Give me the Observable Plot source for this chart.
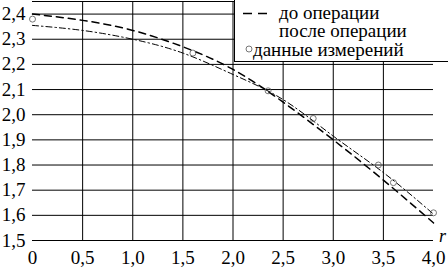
<!DOCTYPE html>
<html>
<head>
<meta charset="utf-8">
<script src="https://cdn.jsdelivr.net/npm/d3@7"></script>
<script src="https://cdn.jsdelivr.net/npm/@observablehq/plot@0.6"></script>
<style>
  html, body { margin: 0; padding: 0; background: #fff; font-family: 'Liberation Serif', serif; }
  #wrap { position: relative; width: 448px; height: 269px; overflow: hidden; font-family: 'Liberation Serif', serif; }
  #legend { position: absolute; left: 234px; top: 0; width: 220px; height: 61px; background: #fff;
            border-left: 1px solid #000; border-bottom: 1px solid #000; font-family: 'Liberation Serif', serif; font-size: 19px; }
  #legend .t { position: absolute; white-space: nowrap; line-height: 18px; height: 18px; color: #000; }
  #legend svg { position: absolute; left: 0; top: 0; }
</style>
</head>
<body>
<div id="wrap">
  <div id="legend">
    <svg width="40" height="61">
      <line x1="8" x2="33" y1="13.5" y2="13.5" stroke="#000" stroke-width="1.5" stroke-dasharray="9,6"></line>
      <circle cx="14" cy="49" r="3" fill="none" stroke="#555" stroke-width="0.8"></circle>
    </svg>
    <div class="t" style="left:44px; top:4px">до операции</div>
    <div class="t" style="left:44px; top:22px">после операции</div>
    <div class="t" style="left:18px; top:41px">данные измерений</div>
  </div>
</div>
<script>
// Curve "до операции" (dashed)
const xBefore = [0, 0.5, 1.0, 1.5, 2.0, 2.5, 3.0, 3.5, 4.0];
const yBefore = [2.40, 2.375, 2.335, 2.27, 2.18, 2.05, 1.90, 1.74, 1.57];
// Curve "после операции" (dash-dot)
const xAfter = [0, 0.5, 1.0, 1.5, 2.0, 2.5, 3.0, 3.5, 4.0];
const yAfter = [2.355, 2.335, 2.30, 2.245, 2.16, 2.06, 1.915, 1.77, 1.605];
// Measurement data
const xMeas = [0, 1.6, 2.35, 2.8, 3.45, 3.6, 4.0];
const yMeas = [2.38, 2.245, 2.095, 1.985, 1.80, 1.73, 1.61];
// Ticks
const xTicks = [0, 0.5, 1.0, 1.5, 2.0, 2.5, 3.0, 3.5, 4.0];
const xTickLabels = ["0", "0,5", "1,0", "1,5", "2,0", "2,5", "3,0", "3,5", "4,0"];
const yTicks = [1.5, 1.6, 1.7, 1.8, 1.9, 2.0, 2.1, 2.2, 2.3, 2.4];
const yTickLabels = ["1,5", "1,6", "1,7", "1,8", "1,9", "2,0", "2,1", "2,2", "2,3", "2,4"];
const xAxisLabel = "r";

const before = xBefore.map((x, i) => ({x, y: yBefore[i]}));
const after = xAfter.map((x, i) => ({x, y: yAfter[i]}));
const meas = xMeas.map((x, i) => ({x, y: yMeas[i]}));

const chart = Plot.plot({
  width: 448,
  height: 269,
  marginLeft: 32,
  marginRight: 15,
  marginTop: 1,
  marginBottom: 29,
  style: "font-family:'Liberation Serif'; font-size:19px; color:#000; background:#fff; overflow:visible",
  x: { domain: [0, 4] },
  y: { domain: [1.5, 2.45] },
  marks: [
    Plot.gridX(xTicks.slice(1, -1), { stroke: "#000", strokeOpacity: 1, strokeWidth: 1 }),
    Plot.gridY(yTicks, { stroke: "#000", strokeOpacity: 1, strokeWidth: 1 }),
    Plot.frame({ anchor: "top", stroke: "#000" }),
    Plot.axisX({ ticks: xTicks, tickFormat: (d, i) => xTickLabels[i], tickSize: 0, tickPadding: 10, label: null, fontSize: 19 }),
    Plot.axisY({ ticks: yTicks, tickFormat: (d, i) => yTickLabels[i], tickSize: 0, tickPadding: 7, label: null, fontSize: 19 }),
    Plot.line(before, { x: "x", y: "y", curve: "natural", stroke: "#000", strokeWidth: 1.5, strokeDasharray: "7,5" }),
    Plot.line(after, { x: "x", y: "y", curve: "natural", stroke: "#000", strokeWidth: 1, strokeDasharray: "6,3,1.5,3" }),
    Plot.dot(meas, { x: "x", y: "y", r: 3, stroke: "#555", strokeWidth: 0.8, fill: "none" }),
    Plot.text([xAxisLabel], { frameAnchor: "bottom-right", dx: 9, dy: -4, textAnchor: "middle", lineAnchor: "middle", fontStyle: "italic", fontSize: 18 })
  ]
});

const wrap = document.getElementById("wrap");
wrap.insertBefore(chart, wrap.firstChild);

chart.querySelectorAll("g, text").forEach(t => {
  t.setAttribute("font-family", "Liberation Serif");
});
</script>
</body>
</html>
